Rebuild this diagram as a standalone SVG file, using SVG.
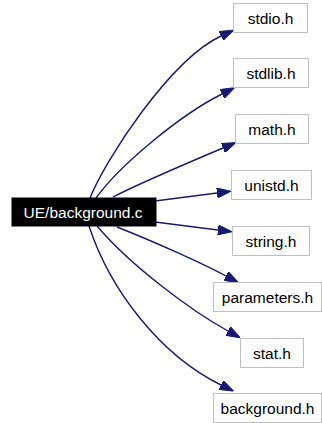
<svg xmlns="http://www.w3.org/2000/svg" width="322" height="423" viewBox="0 0 322 423">
  <style>
    .node rect { fill: #ffffff; stroke: #bfbfbf; stroke-width: 1; }
    .node text, .root text { font-family: "Liberation Sans", Arial, sans-serif; font-size: 15.5px; text-anchor: middle; fill: #000000; }
    .root rect { fill: #000000; stroke: #000000; }
    .root text { fill: #ffffff; }
    .edge { fill: none; stroke: #191970; stroke-width: 1.4; marker-end: url(#arrow); }
  </style>
  <defs>
    <marker id="arrow" viewBox="0 -5 14 10" refX="0" refY="0" markerWidth="14" markerHeight="10" markerUnits="userSpaceOnUse" orient="auto">
      <path d="M0,-5 L14,0 L0,5 z" fill="#191970" stroke="#191970" stroke-width="1"/>
    </marker>
  </defs>

  <!-- dependency edges -->
  <g id="edges">
    <path class="edge" d="M90,198 C105,160 170,60 221,36"/>
    <path class="edge" d="M96,198 C120,165 180,115 222,94"/>
    <path class="edge" d="M113,197 C140,183 190,162 223,148"/>
    <path class="edge" d="M155,201 L217,193"/>
    <path class="edge" d="M155,222 L218,230"/>
    <path class="edge" d="M117,227 C150,240 200,262 226,276"/>
    <path class="edge" d="M97,226 C130,265 190,310 228,331"/>
    <path class="edge" d="M89,226 C110,290 160,355 221,385"/>
  </g>

  <g id="node-background-c" class="root">
    <rect x="12" y="198" width="144" height="28"/>
    <text x="83" y="217.5">UE/background.c</text>
  </g>
  <g id="node-stdio" class="node">
    <rect x="233.5" y="3.5" width="74" height="29"/>
    <text x="270.5" y="23.5">stdio.h</text>
  </g>
  <g id="node-stdlib" class="node">
    <rect x="233.5" y="58.5" width="75" height="29"/>
    <text x="271" y="78.5">stdlib.h</text>
  </g>
  <g id="node-math" class="node">
    <rect x="235.5" y="114.5" width="73" height="29"/>
    <text x="272" y="134.5">math.h</text>
  </g>
  <g id="node-unistd" class="node">
    <rect x="231.5" y="170.5" width="80" height="29"/>
    <text x="271.5" y="190.5">unistd.h</text>
  </g>
  <g id="node-string" class="node">
    <rect x="232.5" y="226.5" width="77" height="29"/>
    <text x="271" y="246.5">string.h</text>
  </g>
  <g id="node-parameters" class="node">
    <rect x="213.5" y="282.5" width="108" height="29"/>
    <text x="267.5" y="302.5">parameters.h</text>
  </g>
  <g id="node-stat" class="node">
    <rect x="240.5" y="338.5" width="63" height="29"/>
    <text x="272" y="358.5">stat.h</text>
  </g>
  <g id="node-background-h" class="node">
    <rect x="213.5" y="393.5" width="108" height="29"/>
    <text x="267.5" y="413.5">background.h</text>
  </g>
</svg>
